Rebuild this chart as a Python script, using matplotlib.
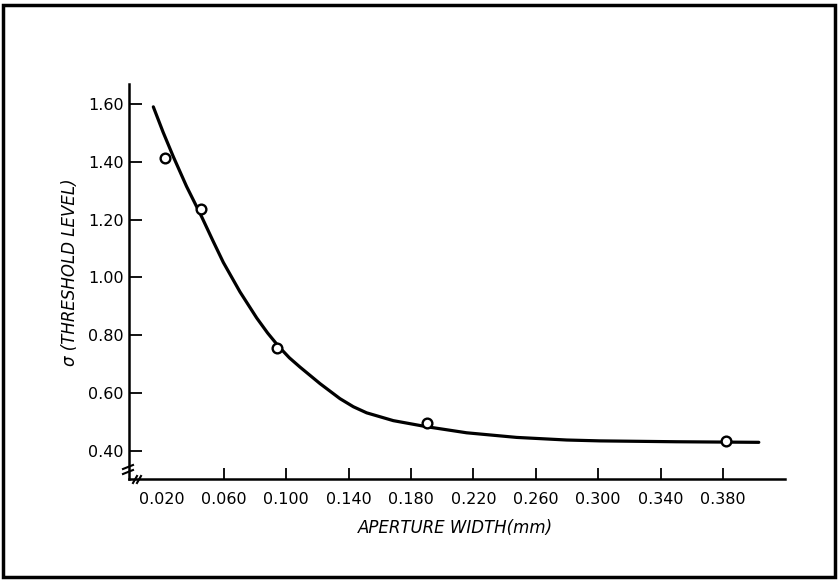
import matplotlib
matplotlib.use("Agg")
import matplotlib.pyplot as plt
from matplotlib.patches import Rectangle
from matplotlib.lines import Line2D

# Data
point_x = [0.022, 0.045, 0.094, 0.190, 0.382]
point_y = [1.412, 1.237, 0.755, 0.496, 0.434]

curve_x = [0.0147, 0.0210, 0.0275, 0.0360, 0.0457, 0.0530, 0.0596, 0.0703,
           0.0810, 0.0880, 0.0950, 0.1020, 0.1088, 0.1216, 0.1344, 0.1430,
           0.1515, 0.1686, 0.1900, 0.2156, 0.2477, 0.2798, 0.3011, 0.3500, 0.4030]
curve_y = [1.590, 1.502, 1.418, 1.315, 1.210, 1.126, 1.052, 0.950,
           0.860, 0.808, 0.762, 0.722, 0.690, 0.633, 0.581, 0.553,
           0.532, 0.505, 0.484, 0.463, 0.447, 0.438, 0.435, 0.432, 0.430]

x_ticks = [0.020, 0.060, 0.100, 0.140, 0.180, 0.220, 0.260, 0.300, 0.340, 0.380]
x_tick_labels = ["0.020", "0.060", "0.100", "0.140", "0.180", "0.220",
                 "0.260", "0.300", "0.340", "0.380"]
y_ticks = [0.40, 0.60, 0.80, 1.00, 1.20, 1.40, 1.60]
y_tick_labels = ["0.40", "0.60", "0.80", "1.00", "1.20", "1.40", "1.60"]

W, H = 838, 581
fig = plt.figure(figsize=(W / 100, H / 100), dpi=100)
ax = fig.add_axes([129 / W, 1 - 479 / H, (785 - 129) / W, (479 - 84) / H])

ax.plot(curve_x, curve_y, color="black", lw=2.3, solid_capstyle="round",
        solid_joinstyle="round")
ax.plot(point_x, point_y, linestyle="none", marker="o", markersize=7,
        markerfacecolor="white", markeredgecolor="black", markeredgewidth=1.7,
        zorder=3)

ax.set_xlim(-0.0009, 0.4198)
ax.set_ylim(0.3032, 1.669)

ax.spines["top"].set_visible(False)
ax.spines["right"].set_visible(False)
ax.spines["left"].set_linewidth(1.8)
ax.spines["bottom"].set_linewidth(1.8)

ax.set_xticks(x_ticks)
ax.set_xticklabels(x_tick_labels)
ax.set_yticks(y_ticks)
ax.set_yticklabels(y_tick_labels)
ax.tick_params(axis="x", direction="in", length=8, width=1.3, pad=9, labelsize=11.5)
ax.tick_params(axis="y", direction="in", length=9.5, width=1.3, pad=4, labelsize=11.5)
ax.xaxis.get_major_ticks()[0].tick1line.set_visible(False)

fig.text(455 / W, 1 - 528 / H, "APERTURE WIDTH(mm)", ha="center", va="center",
         fontsize=12, style="italic")
fig.text(70 / W, 1 - 272 / H, "σ (THRESHOLD LEVEL)", ha="center", va="center",
         rotation=90, fontsize=12, style="italic")

# axis break marks
def seg(x0, y0, x1, y1, lw=1.5):
    fig.add_artist(Line2D([x0 / W, x1 / W], [1 - y0 / H, 1 - y1 / H],
                          transform=fig.transFigure, color="black", lw=lw))

seg(123, 469, 133, 465)
seg(123, 474, 133, 470)
seg(133, 483, 137, 476)
seg(137, 483, 141, 476)

# frame
fig.add_artist(Rectangle((3 / W, 1 - 577 / H), (835 - 3) / W, (577 - 5) / H,
                         transform=fig.transFigure, fill=False,
                         edgecolor="black", lw=2.5))

fig.savefig("out.png", dpi=100)
